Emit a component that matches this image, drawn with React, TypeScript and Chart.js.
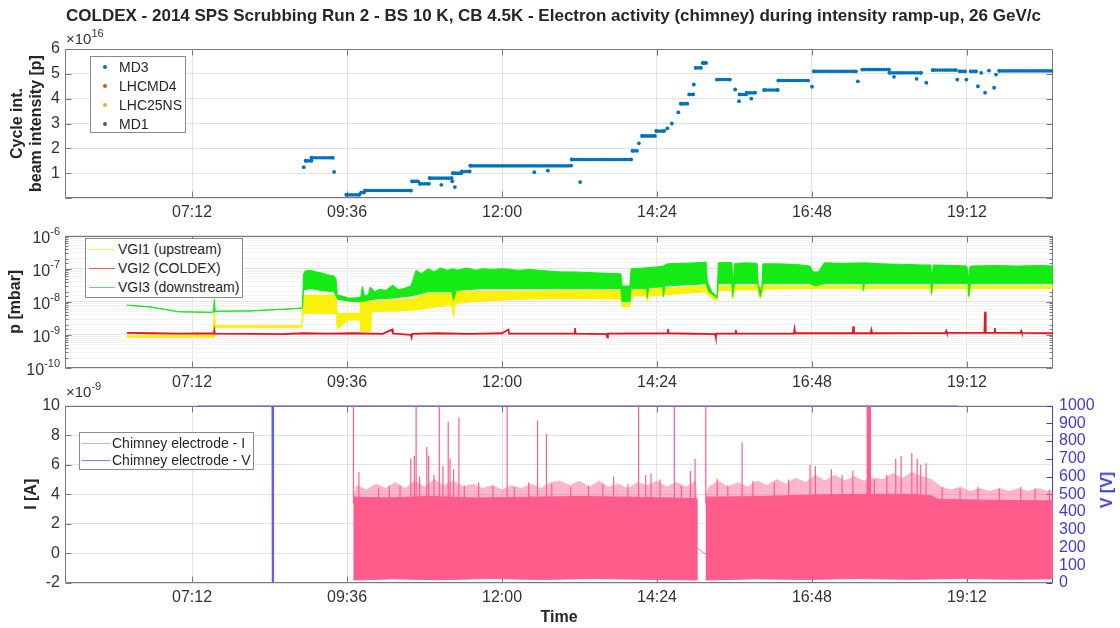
import React, { useEffect, useRef } from "react";
import { Chart, registerables } from "chart.js";

Chart.register(...registerables);

const FONT = '"Liberation Sans", Arial, Helvetica, sans-serif';
Chart.defaults.font.family = FONT;
Chart.defaults.color = "#262626";

// ---------------- data (time in decimal hours) ----------------
const X_MIN = 5.233;
const X_MAX = 20.532;
const timeTicks = [7.2, 9.6, 12.0, 14.4, 16.8, 19.2];

const chartTitle =
  "COLDEX - 2014 SPS Scrubbing Run 2 - BS 10 K, CB 4.5K - Electron activity (chimney) during intensity ramp-up, 26 GeV/c";

// Cycle intensity, units of 1e16 p : [start hour, end hour, value]
const md3Segments: [number, number, number][] = [
  [8.93, 8.93, 1.24], [8.96, 9.05, 1.5], [9.05, 9.38, 1.62], [9.4, 9.4, 1.05],
  [9.59, 9.79, 0.13], [9.82, 9.86, 0.22], [9.88, 10.59, 0.3], [10.61, 10.7, 0.67],
  [10.73, 10.87, 0.57], [10.88, 11.22, 0.8], [11.06, 11.06, 0.53], [11.23, 11.23, 0.67],
  [11.24, 11.37, 1.0], [11.27, 11.27, 0.44], [11.38, 11.5, 1.07], [11.51, 13.07, 1.3],
  [12.5, 12.5, 1.04], [12.71, 12.71, 1.1], [13.08, 14.0, 1.55], [13.21, 13.21, 0.64],
  [14.02, 14.09, 1.9], [14.12, 14.12, 2.2], [14.17, 14.37, 2.5], [14.39, 14.51, 2.7],
  [14.56, 14.56, 2.8], [14.63, 14.63, 3.0], [14.73, 14.73, 3.45], [14.77, 14.87, 3.8],
  [14.9, 14.96, 4.17], [14.97, 14.97, 4.57], [15.0, 15.08, 5.24], [15.11, 15.16, 5.44],
  [15.33, 15.53, 4.77], [15.61, 15.61, 4.37], [15.67, 15.67, 3.9], [15.68, 15.78, 4.17],
  [15.79, 15.92, 4.24], [15.86, 15.86, 4.0], [16.06, 16.27, 4.35], [16.28, 16.74, 4.73],
  [16.8, 16.8, 4.48], [16.83, 17.48, 5.1], [17.51, 17.51, 4.7], [17.58, 17.99, 5.17],
  [18.0, 18.49, 5.04], [18.07, 18.07, 4.88], [18.42, 18.42, 4.8], [18.57, 18.57, 4.64],
  [18.67, 19.03, 5.15], [19.05, 19.05, 4.77], [19.09, 19.17, 5.1], [19.19, 19.19, 4.77],
  [19.26, 19.34, 5.1], [19.37, 19.37, 4.5], [19.42, 19.42, 5.04], [19.48, 19.48, 4.24],
  [19.54, 19.54, 5.13], [19.62, 19.62, 4.44], [19.65, 19.65, 4.97], [19.7, 20.53, 5.12],
];
const lhcmd4Points: [number, number][] = [];
const lhc25nsPoints: [number, number][] = [];
const md1Points: [number, number][] = [];

// Pressures [mbar]
const vgi3Upper: [number, number][] = [
  [6.19, 7.9e-9], [6.55, 7.0e-9], [6.99, 5.0e-9], [7.49, 4.8e-9], [7.53, 4.9e-9], [7.545, 1.2e-8],
  [7.56, 5.0e-9], [7.6, 5.2e-9], [8.1, 5.3e-9], [8.65, 6.0e-9], [8.91, 6.5e-9],
  [8.925, 6.5e-8], [8.95, 8.5e-8], [9.04, 9e-8], [9.12, 8e-8], [9.2, 7.5e-8], [9.3, 6.5e-8],
  [9.4, 6e-8], [9.43, 5e-8], [9.45, 1.6e-8], [9.55, 1.45e-8], [9.62, 1.3e-8], [9.7, 1.3e-8],
  [9.81, 1.35e-8], [9.84, 3e-8], [9.87, 1.5e-8], [9.93, 1.6e-8], [9.96, 2.8e-8], [10.03, 2e-8],
  [10.1, 2.4e-8], [10.2, 2.2e-8], [10.31, 3.2e-8], [10.4, 2.3e-8], [10.5, 2.6e-8], [10.59, 3e-8],
  [10.67, 9e-8], [10.75, 7e-8], [10.86, 1e-7], [10.95, 8e-8], [11.05, 1.05e-7], [11.15, 9e-8],
  [11.25, 1.0e-7], [11.3, 9e-8], [11.45, 1.05e-7], [11.6, 9e-8], [11.69, 1e-7], [11.85, 9.5e-8],
  [12.0, 1e-7], [12.25, 9e-8], [12.45, 9.5e-8], [12.7, 8.5e-8], [12.9, 8e-8], [13.1, 8e-8],
  [13.45, 7.5e-8], [13.84, 7e-8], [13.86, 3e-8], [13.98, 3e-8], [14.0, 1e-7], [14.2, 1.05e-7],
  [14.34, 1.1e-7], [14.5, 1.2e-7], [14.56, 1.4e-7], [14.8, 1.45e-7], [15.0, 1.5e-7], [15.16, 1.6e-7],
  [15.18, 4e-8], [15.25, 2e-8], [15.33, 1.4e-8], [15.35, 1.5e-7], [15.5, 1.55e-7], [15.56, 1.5e-7],
  [15.58, 3e-8], [15.6, 1.4e-7], [15.75, 1.5e-7], [15.95, 1.45e-7], [15.97, 3e-8], [16.02, 2e-8],
  [16.04, 1.4e-7], [16.3, 1.4e-7], [16.55, 1.35e-7], [16.77, 1.2e-7], [16.82, 8e-8], [16.9, 8e-8],
  [16.99, 1.5e-7], [17.3, 1.45e-7], [17.6, 1.5e-7], [17.9, 1.4e-7], [18.2, 1.35e-7], [18.5, 1.3e-7],
  [18.64, 1.3e-7], [18.655, 5e-8], [18.68, 1.3e-7], [19.0, 1.25e-7], [19.2, 1.2e-7], [19.22, 5e-8],
  [19.25, 1.2e-7], [19.6, 1.25e-7], [20.0, 1.2e-7], [20.3, 1.25e-7], [20.56, 1.2e-7],
];
const vgi3Lower: [number, number][] = [
  [6.19, 7.9e-9], [6.55, 7.0e-9], [6.99, 5.0e-9], [7.49, 4.8e-9], [7.56, 5.0e-9], [7.6, 5.2e-9],
  [8.1, 5.3e-9], [8.65, 6.0e-9], [8.91, 6.5e-9], [8.925, 2.3e-8], [9.04, 2.5e-8], [9.2, 2.2e-8],
  [9.4, 2.0e-8], [9.45, 1.2e-8], [9.62, 1.05e-8], [9.81, 1.0e-8], [10.03, 1.2e-8], [10.31, 1.3e-8],
  [10.59, 1.5e-8], [10.86, 2e-8], [11.22, 2e-8], [11.25, 1.1e-8], [11.29, 2.2e-8], [11.69, 2.5e-8],
  [12.25, 2.5e-8], [12.9, 2.5e-8], [13.45, 2.5e-8], [13.84, 2.5e-8], [13.86, 1e-8], [13.98, 1e-8],
  [14.0, 2.5e-8], [14.24, 2.5e-8], [14.25, 1.3e-8], [14.27, 2.7e-8], [14.49, 2.8e-8], [14.5, 1.4e-8],
  [14.52, 3e-8], [15.16, 3.5e-8], [15.2, 2e-8], [15.33, 1.3e-8], [15.35, 3.5e-8], [15.56, 3.5e-8],
  [15.57, 1.4e-8], [15.6, 3.5e-8], [15.96, 3.5e-8], [16.0, 1.4e-8], [16.04, 3.5e-8], [16.77, 3.5e-8],
  [16.85, 3e-8], [16.99, 3.5e-8], [17.59, 3.5e-8], [17.6, 2.2e-8], [17.61, 3.5e-8], [18.64, 3.5e-8],
  [18.65, 1.7e-8], [18.67, 3.5e-8], [19.22, 3.5e-8], [19.23, 1.5e-8], [19.25, 3.5e-8], [20.56, 3.5e-8],
];
const vgi1Upper: [number, number][] = [
  [6.19, 9.5e-10], [7.53, 9.5e-10], [7.545, 8e-9], [7.56, 1.9e-9], [8.9, 1.9e-9], [8.925, 1.6e-8],
  [9.43, 1.6e-8], [9.45, 4.5e-9], [9.8, 4.5e-9], [9.81, 1e-8], [9.97, 1e-8], [10.59, 1.2e-8],
  [10.86, 1.8e-8], [11.22, 1.8e-8], [11.25, 1e-8], [11.28, 2e-8], [13.84, 2.2e-8], [13.86, 9e-9],
  [13.98, 9e-9], [14.0, 2.2e-8], [15.16, 3e-8], [15.33, 1.2e-8], [15.35, 3e-8], [20.56, 3e-8],
];
const vgi1Lower: [number, number][] = [
  [6.19, 8.5e-10], [7.53, 8.5e-10], [7.545, 8e-10], [7.56, 1.7e-9], [8.9, 1.7e-9], [8.925, 4.5e-9],
  [9.43, 4.5e-9], [9.45, 1.5e-9], [9.62, 2.8e-9], [9.8, 2.8e-9], [9.81, 1.3e-9], [9.97, 1.3e-9],
  [9.98, 5e-9], [10.59, 5.5e-9], [11.0, 7e-9], [11.22, 8e-9], [11.25, 3.5e-9], [11.28, 9e-9],
  [11.69, 1.05e-8], [12.3, 1.2e-8], [12.9, 1.25e-8], [13.84, 1.2e-8], [13.86, 7e-9], [13.98, 7e-9],
  [14.0, 1.5e-8], [14.24, 1.5e-8], [14.25, 1e-8], [14.27, 1.5e-8], [15.16, 2e-8], [15.2, 1.5e-8],
  [15.33, 1.1e-8], [15.35, 2.2e-8], [15.56, 2.2e-8], [15.57, 1.2e-8], [15.6, 2.3e-8], [15.96, 2.3e-8],
  [16.0, 1.2e-8], [16.04, 2.4e-8], [16.8, 2.5e-8], [18.64, 2.5e-8], [18.65, 1.5e-8], [18.67, 2.5e-8],
  [19.22, 2.5e-8], [19.23, 1.3e-8], [19.25, 2.5e-8], [20.56, 2.5e-8],
];
const vgi2Line: [number, number][] = [
  [6.19, 1.15e-9], [6.6, 1.12e-9], [7.0, 1.1e-9], [7.54, 1.12e-9], [7.545, 1.3e-9], [7.55, 1.1e-9],
  [8.2, 1.08e-9], [8.6, 1.05e-9], [8.93, 1.12e-9], [9.3, 1.1e-9], [9.7, 1.12e-9], [10.15, 1.08e-9],
  [10.3, 1.45e-9], [10.31, 1.1e-9], [10.59, 1.0e-9], [10.6, 8.5e-10], [10.61, 1.08e-9], [11.0, 1.12e-9],
  [11.5, 1.08e-9], [12.0, 1.12e-9], [12.1, 1.45e-9], [12.11, 1.1e-9], [12.6, 1.1e-9], [13.12, 1.1e-9],
  [13.13, 1.6e-9], [13.14, 1.1e-9], [13.62, 1.05e-9], [13.63, 8.5e-10], [13.64, 1.1e-9], [14.56, 1.12e-9],
  [14.57, 1.5e-9], [14.58, 1.12e-9], [15.3, 1.05e-9], [15.31, 8.5e-10], [15.32, 1.1e-9], [15.61, 1.1e-9],
  [15.62, 1.4e-9], [15.63, 1.1e-9], [16.52, 1.1e-9], [16.53, 1.5e-9], [16.54, 1.12e-9], [17.43, 1.12e-9],
  [17.44, 1.8e-9], [17.45, 1.12e-9], [17.71, 1.12e-9], [17.72, 1.4e-9], [17.73, 1.12e-9], [18.87, 1.15e-9],
  [18.88, 1.3e-9], [18.89, 1.15e-9], [19.47, 1.15e-9], [19.48, 5e-9], [19.49, 1.15e-9], [19.62, 1.15e-9],
  [19.63, 1.6e-9], [19.64, 1.15e-9], [20.03, 1.15e-9], [20.04, 1.3e-9], [20.05, 1.15e-9], [20.56, 1.12e-9],
];

// Chimney electrode current [units of 1e-9 A] and voltage [V]
const iBand1Top: [number, number][] = [
  [9.7, 3.8], [10.2, 3.75], [10.9, 3.85], [11.6, 3.75], [12.4, 3.8], [13.2, 3.85], [14.0, 3.8], [14.6, 3.75], [15.017, 3.7],
];
const iBand1Bottom: [number, number][] = [
  [9.7, -1.8], [10.3, -1.72], [11.0, -1.78], [11.8, -1.7], [12.6, -1.76], [13.4, -1.7], [14.2, -1.75], [15.017, -1.8],
];
const iBand2Top: [number, number][] = [
  [15.155, 3.8], [16.0, 3.85], [16.8, 3.95], [17.6, 4.0], [18.3, 4.0], [18.65, 3.9], [18.75, 3.65], [19.5, 3.6], [20.56, 3.55],
];
const iBand2Bottom: [number, number][] = [
  [15.155, -1.8], [15.9, -1.72], [16.7, -1.76], [17.5, -1.7], [18.3, -1.75], [19.1, -1.7], [19.9, -1.74], [20.56, -1.72],
];
const iFringe1Top: [number, number][] = [
  [9.7, 3.8], [9.75, 4.6], [9.9, 4.3], [10.05, 4.7], [10.2, 4.4], [10.35, 4.8], [10.5, 4.4], [10.65, 4.9],
  [10.8, 4.5], [10.95, 5.0], [11.1, 4.6], [11.25, 4.9], [11.4, 4.5], [11.55, 4.7], [11.7, 4.4], [11.85, 4.6],
  [12.0, 4.3], [12.15, 4.6], [12.3, 4.4], [12.45, 4.7], [12.6, 4.4], [12.75, 4.8], [12.9, 4.9], [13.05, 4.6],
  [13.2, 4.9], [13.35, 4.5], [13.5, 4.9], [13.65, 4.5], [13.8, 4.7], [13.95, 4.4], [14.1, 4.8], [14.25, 4.6],
  [14.4, 4.9], [14.55, 4.5], [14.7, 4.8], [14.85, 4.5], [15.0, 4.9], [15.017, 3.7],
];
const iFringe2Top: [number, number][] = [
  [15.155, 3.8], [15.2, 4.5], [15.35, 4.9], [15.5, 4.5], [15.65, 4.8], [15.8, 4.5], [15.95, 4.9], [16.1, 4.6],
  [16.25, 5.0], [16.4, 4.7], [16.55, 5.1], [16.7, 4.8], [16.85, 5.3], [17.0, 4.9], [17.15, 5.3], [17.3, 4.9],
  [17.45, 5.2], [17.6, 4.9], [17.75, 5.1], [17.9, 5.0], [18.05, 5.4], [18.2, 5.1], [18.35, 5.5], [18.5, 5.2],
  [18.65, 5.0], [18.8, 4.5], [18.95, 4.3], [19.1, 4.5], [19.25, 4.2], [19.4, 4.4], [19.55, 4.2], [19.7, 4.4],
  [19.85, 4.2], [20.0, 4.4], [20.15, 4.2], [20.3, 4.4], [20.45, 4.2], [20.56, 4.3],
];
const iSpikes: [number, number][] = [
  [9.7, 10], [9.784, 5.5], [10.089, 4.4], [10.255, 4.6], [10.421, 4.6], [10.587, 6.4], [10.642, 6.6],
  [10.67, 10], [10.725, 5.2], [10.836, 7.2], [10.864, 6.6], [10.946, 5.3], [11.029, 10], [11.085, 5.9],
  [11.167, 8.9], [11.195, 6.4], [11.25, 5.7], [11.333, 9.2], [11.416, 4.6], [11.638, 4.8], [11.859, 4.6],
  [12.079, 10], [12.19, 4.5], [12.412, 4.8], [12.55, 9.0], [12.688, 8.1], [12.771, 4.7], [13.064, 4.5],
  [13.34, 4.6], [13.562, 4.7], [13.728, 5.2], [13.949, 4.7], [14.115, 10], [14.225, 5.3], [14.308, 5.4],
  [14.447, 5.0], [14.668, 10], [14.779, 4.6], [14.917, 5.6], [14.989, 6.4], [15.155, 10], [15.332, 5.05],
  [15.497, 4.6], [15.718, 7.5], [15.885, 4.9], [16.217, 4.8], [16.438, 5.0], [16.77, 6.0], [16.853, 5.9],
  [17.101, 5.7], [17.267, 5.3], [17.433, 5.6], [17.655, 10], [17.665, 10], [17.675, 10], [17.685, 10],
  [17.695, 10], [17.705, 10], [17.765, 5.0], [17.959, 5.3], [18.097, 6.4], [18.18, 6.6], [18.346, 6.8],
  [18.429, 6.4], [18.484, 6.0], [18.567, 6.1], [18.816, 4.5], [19.093, 4.4], [19.369, 4.5], [19.701, 4.4],
  [20.033, 4.5], [20.254, 4.4], [20.475, 4.3],
];
const iGapLine: [number, number][] = [[15.0, 0.45], [15.155, -0.05]];
const vLine: [number, number][] = [
  [7.29, 1000], [8.44, 1000], [8.445, 0], [8.455, 0], [8.46, 1000], [19.06, 1000],
];

// ---------------- styles ----------------
const C_MD3 = "#0072BD";
const C_LHCMD4 = "#D95319";
const C_LHC25NS = "#EDB120";
const C_MD1 = "#555555";
const C_VGI1 = "rgb(250,240,10)";
const C_VGI2 = "rgb(230,20,30)";
const C_VGI3 = "rgb(20,235,20)";
const C_I = "rgb(255,92,140)";
const C_I_FRINGE = "rgba(255,92,140,0.45)";
const C_V = "rgb(95,95,255)";
const RIGHT_AXIS = "rgb(60,60,215)";
const BOX = "#7a7a7a";
const GRID = "#e2e2e2";
const GRID_MINOR = "#f3f3f3";
const TICK = "#333333";
const SPIKE_BASE = 3.4;

const pts = (a: [number, number][]) => a.map(([x, y]) => ({ x, y }));
const polygon = (up: [number, number][], low: [number, number][]) => [
  ...pts(up),
  ...pts(low).reverse(),
];
const isPow10 = (v: number) => {
  if (!(v > 0)) return false;
  const l = Math.log10(v);
  return Math.abs(l - Math.round(l)) < 1e-6;
};
const fmtTime = (h: number) => {
  const tot = Math.round(h * 60);
  const hh = Math.floor(tot / 60);
  const mm = tot % 60;
  return String(hh).padStart(2, "0") + ":" + String(mm).padStart(2, "0");
};

const framePlugin = {
  id: "frame",
  beforeDatasetsDraw(chart: any) {
    const { ctx, chartArea: a, scales } = chart;
    const L = Math.round(a.left) + 0.5;
    const R = Math.round(a.right) - 0.5;
    const T = Math.round(a.top) + 0.5;
    const B = Math.round(a.bottom) - 0.5;
    const hasRight = !!scales.y1;
    ctx.save();
    ctx.lineWidth = 1;
    ctx.strokeStyle = BOX;
    ctx.beginPath();
    const xs = scales.x;
    xs.ticks.forEach((t: any) => {
      const p = Math.round(xs.getPixelForValue(t.value)) + 0.5;
      ctx.moveTo(p, B);
      ctx.lineTo(p, B - 6);
      ctx.moveTo(p, T);
      ctx.lineTo(p, T + 6);
    });
    const ys = scales.y;
    const isLog = ys.type === "logarithmic";
    ys.ticks.forEach((t: any) => {
      const len = isLog && !isPow10(t.value) ? 3 : 6;
      const p = Math.round(ys.getPixelForValue(t.value)) + 0.5;
      ctx.moveTo(L, p);
      ctx.lineTo(L + len, p);
      if (!hasRight) {
        ctx.moveTo(R, p);
        ctx.lineTo(R - len, p);
      }
    });
    ctx.moveTo(R, T);
    ctx.lineTo(L, T);
    ctx.lineTo(L, B);
    ctx.lineTo(R, B);
    if (!hasRight) ctx.lineTo(R, T);
    ctx.stroke();
    if (hasRight) {
      const y1 = scales.y1;
      ctx.strokeStyle = RIGHT_AXIS;
      ctx.beginPath();
      ctx.moveTo(R, T);
      ctx.lineTo(R, B);
      y1.ticks.forEach((t: any) => {
        const p = Math.round(y1.getPixelForValue(t.value)) + 0.5;
        ctx.moveTo(R, p);
        ctx.lineTo(R - 6, p);
      });
      ctx.stroke();
    }
    // power-of-ten labels with a raised exponent on the log axis
    if (isLog) {
      ctx.fillStyle = TICK;
      ctx.textBaseline = "middle";
      ctx.textAlign = "left";
      ys.ticks.forEach((t: any) => {
        if (!isPow10(t.value)) return;
        const e = String(Math.round(Math.log10(t.value)));
        const p = ys.getPixelForValue(t.value);
        ctx.font = "11px " + FONT;
        const we = ctx.measureText(e).width;
        ctx.font = "16px " + FONT;
        const wb = ctx.measureText("10").width;
        const right = a.left - 5;
        ctx.fillText("10", right - we - wb, p + 3);
        ctx.font = "11px " + FONT;
        ctx.fillText(e, right - we, p - 4);
      });
    }
    ctx.restore();
  },
};

const xAxis = (height: number, title?: string) => ({
  type: "linear",
  min: X_MIN,
  max: X_MAX,
  afterBuildTicks: (s: any) => {
    s.ticks = timeTicks.map((v) => ({ value: v }));
  },
  afterFit: (s: any) => {
    s.height = height;
  },
  ticks: {
    callback: (v: any) => fmtTime(Number(v)),
    padding: 5,
    maxRotation: 0,
    autoSkip: false,
    color: TICK,
    font: { size: 16 },
  },
  grid: { color: GRID, drawTicks: false },
  border: { display: false },
  title: title
    ? { display: true, text: title, font: { size: 16, weight: "bold" }, color: "#262626", padding: { top: 0, bottom: 1 } }
    : { display: false },
});

const yTitle = (text: string | string[], pad: number) => ({
  display: true,
  text,
  font: { size: 16, weight: "bold" },
  color: "#262626",
  padding: { top: pad, bottom: 0 },
});

const baseOptions = (padTop: number, padRight: number, scales: any) => ({
  responsive: false,
  animation: false,
  events: [],
  layout: { padding: { top: padTop, right: padRight, left: 0, bottom: 0 } },
  plugins: { legend: { display: false }, tooltip: { enabled: false }, title: { display: false } },
  elements: { point: { radius: 0 }, line: { tension: 0 } },
  scales,
});

function topConfig(): any {
  const md3Data: any[] = [];
  md3Segments.forEach(([t0, t1, v]) => {
    md3Data.push({ x: t0, y: v });
    if (t1 !== t0) md3Data.push({ x: t1, y: v });
    md3Data.push({ x: t1, y: null });
  });
  const dotSet = (label: string, data: any[], color: string) => ({
    label,
    data,
    borderColor: color,
    backgroundColor: color,
    borderWidth: 3.6,
    borderDash: [0, 2.4],
    borderCapStyle: "round",
    pointRadius: 1.9,
    pointBackgroundColor: color,
    pointBorderWidth: 0,
    spanGaps: false,
  });
  return {
    type: "line",
    data: {
      datasets: [
        dotSet("MD3", md3Data, C_MD3),
        dotSet("LHCMD4", pts(lhcmd4Points), C_LHCMD4),
        dotSet("LHC25NS", pts(lhc25nsPoints), C_LHC25NS),
        dotSet("MD1", pts(md1Points), C_MD1),
      ],
    },
    options: baseOptions(49, 67, {
      x: xAxis(28),
      y: {
        type: "linear",
        min: 0,
        max: 6,
        afterFit: (s: any) => {
          s.width = 65;
        },
        ticks: {
          stepSize: 1,
          callback: (v: any) => (Number(v) === 0 ? "" : String(v)),
          padding: 5,
          color: TICK,
          font: { size: 16 },
        },
        grid: { color: GRID, drawTicks: false },
        border: { display: false },
        title: yTitle(["Cycle int.", "beam intensity [p]"], 8),
      },
    }),
    plugins: [framePlugin],
  };
}

function midConfig(): any {
  return {
    type: "line",
    data: {
      datasets: [
        {
          label: "VGI3 (downstream)",
          data: polygon(vgi3Upper, vgi3Lower),
          borderColor: C_VGI3,
          backgroundColor: C_VGI3,
          borderWidth: 1,
          fill: "shape",
        },
        {
          label: "VGI2 (COLDEX)",
          data: pts(vgi2Line),
          borderColor: C_VGI2,
          borderWidth: 1.8,
          fill: false,
        },
        {
          label: "VGI1 (upstream)",
          data: polygon(vgi1Upper, vgi1Lower),
          borderColor: C_VGI1,
          backgroundColor: C_VGI1,
          borderWidth: 1,
          fill: "shape",
        },
      ],
    },
    options: baseOptions(10, 67, {
      x: xAxis(32),
      y: {
        type: "logarithmic",
        min: 1e-10,
        max: 1e-6,
        afterFit: (s: any) => {
          s.width = 65;
        },
        ticks: {
          autoSkip: false,
          callback: () => "",
          padding: 5,
          color: TICK,
          font: { size: 16 },
        },
        grid: {
          color: (c: any) => (c.tick && isPow10(c.tick.value) ? GRID : GRID_MINOR),
          drawTicks: false,
        },
        border: { display: false },
        title: yTitle("p [mbar]", 6),
      },
    }),
    plugins: [framePlugin],
  };
}

function botConfig(): any {
  const spikeData: any[] = [];
  iSpikes.forEach(([h, v]) => {
    spikeData.push({ x: h, y: SPIKE_BASE });
    spikeData.push({ x: h, y: v });
    spikeData.push({ x: h, y: null });
  });
  const band = (up: [number, number][], low: [number, number][]) => ({
    label: "Chimney electrode - I",
    data: polygon(up, low),
    borderColor: C_I,
    backgroundColor: C_I,
    borderWidth: 1,
    fill: "shape",
    yAxisID: "y",
  });
  const fringe = (up: [number, number][], low: [number, number][]) => ({
    label: "I fringe",
    data: polygon(up, low),
    borderColor: C_I_FRINGE,
    backgroundColor: C_I_FRINGE,
    borderWidth: 0.5,
    fill: "shape",
    yAxisID: "y",
  });
  return {
    type: "line",
    data: {
      datasets: [
        {
          label: "Chimney electrode - V",
          data: pts(vLine),
          borderColor: C_V,
          borderWidth: 1.3,
          fill: false,
          yAxisID: "y1",
        },
        {
          label: "I spikes",
          data: spikeData,
          borderColor: C_I,
          borderWidth: 1.2,
          fill: false,
          spanGaps: false,
          yAxisID: "y",
        },
        band(iBand1Top, iBand1Bottom),
        band(iBand2Top, iBand2Bottom),
        fringe(iFringe1Top, iBand1Top),
        fringe(iFringe2Top, iBand2Top),
        {
          label: "I gap",
          data: pts(iGapLine),
          borderColor: C_I,
          borderWidth: 0.8,
          fill: false,
          yAxisID: "y",
        },
      ],
    },
    options: baseOptions(11, 0, {
      x: xAxis(45, "Time"),
      y: {
        type: "linear",
        min: -2,
        max: 10,
        afterFit: (s: any) => {
          s.width = 65;
        },
        ticks: { stepSize: 2, padding: 5, color: TICK, font: { size: 16 } },
        grid: { color: GRID, drawTicks: false },
        border: { display: false },
        title: yTitle("I [A]", 22),
      },
      y1: {
        type: "linear",
        position: "right",
        min: 0,
        max: 1000,
        afterFit: (s: any) => {
          s.width = 67;
        },
        ticks: {
          stepSize: 100,
          autoSkip: false,
          callback: (v: any) => String(v),
          padding: 6,
          color: RIGHT_AXIS,
          font: { size: 16 },
        },
        grid: { display: false, drawTicks: false },
        border: { display: false },
        title: { display: false },
      },
    }),
    plugins: [framePlugin],
  };
}

type LegendItem = { label: string; color: string };

function Legend(props: {
  left: number;
  top: number;
  width: number;
  height: number;
  rows: number[];
  items: LegendItem[];
  kind: "dot" | "line";
  markX0: number;
  markX1: number;
  textX: number;
}) {
  const { left, top, width, height, rows, items, kind, markX0, markX1, textX } = props;
  return (
    <div
      style={{
        position: "absolute",
        left,
        top,
        width,
        height,
        boxSizing: "border-box",
        border: "1px solid #8a8a8a",
        background: "#ffffff",
      }}
    >
      {items.map((it, i) => (
        <React.Fragment key={it.label}>
          {kind === "dot" ? (
            <div
              style={{
                position: "absolute",
                left: markX0 - 2,
                top: rows[i] - 2,
                width: 4,
                height: 4,
                borderRadius: 2,
                background: it.color,
              }}
            />
          ) : (
            <div
              style={{
                position: "absolute",
                left: markX0,
                top: rows[i],
                width: markX1 - markX0,
                height: 0,
                borderTop: "1px solid " + it.color,
              }}
            />
          )}
          <div
            style={{
              position: "absolute",
              left: textX,
              top: rows[i] - 9,
              height: 18,
              lineHeight: "18px",
              fontSize: 14,
              color: "#262626",
              whiteSpace: "nowrap",
            }}
          >
            {it.label}
          </div>
        </React.Fragment>
      ))}
    </div>
  );
}

export default function App() {
  const r1 = useRef<HTMLCanvasElement>(null);
  const r2 = useRef<HTMLCanvasElement>(null);
  const r3 = useRef<HTMLCanvasElement>(null);

  useEffect(() => {
    const charts = [
      new Chart(r1.current as HTMLCanvasElement, topConfig()),
      new Chart(r2.current as HTMLCanvasElement, midConfig()),
      new Chart(r3.current as HTMLCanvasElement, botConfig()),
    ];
    return () => charts.forEach((c) => c.destroy());
  }, []);

  const canvasStyle = (top: number, h: number): React.CSSProperties => ({
    position: "absolute",
    left: 0,
    top,
    width: 1120,
    height: h,
  });

  return (
    <div
      style={{
        position: "fixed",
        left: 0,
        top: 0,
        width: 1120,
        height: 628,
        background: "#ffffff",
        fontFamily: FONT,
        overflow: "hidden",
      }}
    >
      <canvas ref={r1} width={1120} height={226} style={canvasStyle(0, 226)} />
      <canvas ref={r2} width={1120} height={179} style={canvasStyle(221, 179)} />
      <canvas ref={r3} width={1120} height={238} style={canvasStyle(390, 238)} />

      <div
        style={{
          position: "absolute",
          left: 0,
          width: 1107,
          top: 6,
          textAlign: "center",
          fontSize: 17,
          fontWeight: "bold",
          color: "#262626",
          whiteSpace: "nowrap",
        }}
      >
        {chartTitle}
      </div>

      <div style={{ position: "absolute", left: 66, top: 30, fontSize: 15, color: "#333", whiteSpace: "nowrap" }}>
        {"\u00D710"}
        <span style={{ fontSize: 11, position: "relative", top: -7 }}>16</span>
      </div>
      <div style={{ position: "absolute", left: 66, top: 383, fontSize: 15, color: "#333", whiteSpace: "nowrap" }}>
        {"\u00D710"}
        <span style={{ fontSize: 11, position: "relative", top: -7 }}>-9</span>
      </div>

      <div
        style={{
          position: "absolute",
          left: 1107,
          top: 490,
          transform: "translate(-50%, -50%) rotate(-90deg)",
          fontSize: 16,
          fontWeight: "bold",
          color: RIGHT_AXIS,
          whiteSpace: "nowrap",
        }}
      >
        V [V]
      </div>

      <Legend
        left={90}
        top={56}
        width={96}
        height={77}
        rows={[10, 29, 48, 67]}
        kind="dot"
        markX0={14}
        markX1={14}
        textX={28}
        items={[
          { label: "MD3", color: C_MD3 },
          { label: "LHCMD4", color: C_LHCMD4 },
          { label: "LHC25NS", color: C_LHC25NS },
          { label: "MD1", color: C_MD1 },
        ]}
      />
      <Legend
        left={85}
        top={238}
        width={158}
        height={60}
        rows={[10, 29, 48]}
        kind="line"
        markX0={3}
        markX1={29}
        textX={32}
        items={[
          { label: "VGI1 (upstream)", color: "rgba(245,235,20,0.7)" },
          { label: "VGI2 (COLDEX)", color: "rgba(230,20,30,0.7)" },
          { label: "VGI3 (downstream)", color: "rgba(20,220,20,0.7)" },
        ]}
      />
      <Legend
        left={79}
        top={432}
        width={175}
        height={38}
        rows={[10, 27]}
        kind="line"
        markX0={2}
        markX1={30}
        textX={32}
        items={[
          { label: "Chimney electrode - I", color: "rgba(255,92,140,0.6)" },
          { label: "Chimney electrode - V", color: "rgba(95,95,255,0.8)" },
        ]}
      />
    </div>
  );
}
